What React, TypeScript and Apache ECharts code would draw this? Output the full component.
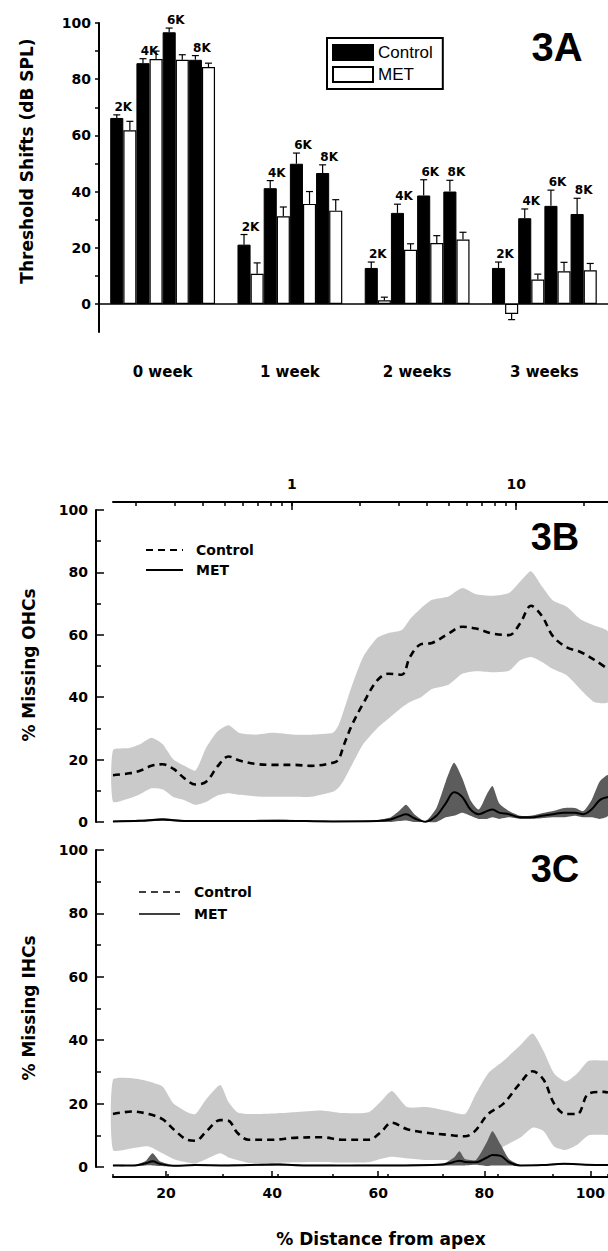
import React, { useEffect, useRef } from 'react';
import * as echarts from 'echarts';

// ---------------- Panel 3A : threshold shifts ----------------
const weekLabels = ['0 week', '1 week', '2 weeks', '3 weeks'];
const freqNames = ['2K', '4K', '6K', '8K'];
const ctl2K = [66.2, 21.1, 12.8, 12.8];
const ctl4K = [85.7, 41.2, 32.4, 30.5];
const ctl6K = [96.7, 49.9, 38.6, 34.9];
const ctl8K = [86.9, 46.6, 40.0, 32.0];
const met2K = [61.8, 10.7, 1.3, -3.6];
const met4K = [87.2, 31.2, 19.3, 8.7];
const met6K = [86.9, 35.6, 21.7, 11.6];
const met8K = [84.3, 33.2, 22.9, 12.0];
const ctl2KErr = [1.1, 3.6, 2.1, 2.1];
const ctl4KErr = [1.6, 2.7, 3.1, 3.3];
const ctl6KErr = [1.5, 3.8, 5.6, 5.6];
const ctl8KErr = [1.5, 2.9, 4.0, 5.6];
const met2KErr = [3.2, 3.9, 1.1, 2.0];
const met4KErr = [2.8, 3.3, 2.1, 1.9];
const met6KErr = [1.8, 4.4, 2.6, 3.2];
const met8KErr = [1.4, 3.9, 2.6, 2.4];
const shiftTicks = [0, 10, 20, 30, 40, 50, 60, 70, 80, 90, 100];
const shiftLabels = [0, 20, 40, 60, 80, 100];

// ---------------- Panel 3B : missing OHCs ----------------
const ohcX = [10, 13, 15, 17, 19, 21, 23, 25, 27, 29, 31, 33, 36, 39, 43, 46, 50, 51, 52, 53.5, 55.5, 58, 60, 62.5, 64, 66, 68, 71, 73.5, 76, 79, 82, 84, 86, 88, 90, 92.5, 95, 97.5, 100];
const ohcCtlMean = [15, 15.6, 16.5, 18, 18.5, 17, 14, 12, 13, 17.8, 21, 19.7, 18.6, 18.3, 18.3, 18, 19, 20, 24.8, 31.3, 38, 45.3, 47.5, 47.2, 52.9, 57, 57.4, 60.4, 62.6, 62, 60.4, 59.9, 63.6, 69.3, 66, 59.5, 56, 54.5, 52, 49];
const ohcCtlHigh = [23, 23.7, 25, 27, 25, 20, 18, 16.5, 24, 29, 31, 28.5, 28, 28.6, 28, 28, 28.6, 31, 36, 44, 53, 59, 60.5, 61.5, 65, 68.5, 71.2, 72.3, 75, 73, 72.5, 73.4, 77, 80.4, 75.5, 71, 69, 65, 63, 61];
const ohcCtlLow = [6.5, 7.6, 9, 10.8, 10.5, 8, 7, 5.5, 6.5, 8.5, 9.2, 8.7, 8.2, 8.1, 8.1, 8.1, 9.7, 11, 13.5, 18.5, 25, 30, 33, 36.7, 38.5, 40, 42.6, 44, 47.5, 48.3, 48, 48.5, 51.8, 52.9, 51.3, 49, 47, 42.5, 38.5, 38.5];
const ohcMetX = [10, 15, 19, 23, 30, 40, 50, 58, 60.5, 62, 63.3, 64.8, 66.8, 68.8, 70.5, 72, 73.5, 75, 76.5, 78, 79, 80.2, 82, 84, 86, 88, 90, 92, 94, 95.5, 97, 98.5, 100];
const ohcMetMean = [0.2, 0.4, 0.8, 0.3, 0.3, 0.4, 0.2, 0.3, 0.8, 1.8, 2.5, 1.2, 0.1, 2.0, 6.0, 9.5, 8.0, 4.0, 2.5, 3.5, 4.0, 3.0, 2.5, 1.5, 1.5, 2.0, 2.5, 3.0, 3.0, 2.5, 4.0, 7.0, 8.0];
const ohcMetLow = [0, 0.1, 0.4, 0, 0, 0.1, 0, 0, 0, 0.3, 0.5, 0, 0, 0, 1.5, 2, 3, 2, 1, 1, 1.5, 1, 1.5, 1, 1, 1.2, 1.5, 1.5, 2, 1.5, 1.5, 1, 2];
const ohcMetHigh = [0.4, 0.7, 1.2, 0.6, 0.6, 0.7, 0.4, 0.6, 1.5, 3.5, 5.5, 2.5, 0.3, 4.5, 13, 19, 14, 7, 4, 9, 11.5, 6, 3.5, 2, 2, 2.8, 3.5, 4.5, 4.5, 3.5, 7, 13, 15];

// ---------------- Panel 3C : missing IHCs ----------------
const ihcX = [10, 13.5, 16.5, 19, 21, 23.5, 25, 27, 29.5, 31, 32.6, 34.7, 39, 43, 48, 51.6, 56.5, 58.6, 60.7, 63.5, 67, 70.5, 74, 75.8, 78.2, 81, 84, 86.3, 88.3, 90.2, 92.3, 94.4, 96.5, 99.3, 100];
const ihcCtlMean = [16.7, 17.5, 16.7, 15.1, 11.9, 8.6, 8.3, 11.3, 14.8, 14.6, 10.8, 8.6, 8.6, 9.2, 9.4, 8.6, 8.6, 10.8, 14.0, 11.9, 10.8, 10.2, 9.7, 11.3, 16.7, 20.0, 26.4, 30.2, 27.5, 20.0, 16.7, 16.7, 23.2, 23.7, 23.5];
const ihcCtlHigh = [27.5, 28, 27, 25.4, 20, 17.3, 16.7, 21.5, 25.9, 20.5, 17.3, 16.7, 16.9, 17.3, 17.8, 17.0, 17.3, 20.5, 24.0, 18.9, 18.9, 17.8, 16.7, 22.5, 29.5, 33.5, 38.3, 42.1, 36.5, 29.5, 27.0, 29.5, 33.5, 33.6, 33.4];
const ihcCtlLow = [5.4, 5.9, 6.5, 4.3, 2.5, 1.4, 1.1, 2.5, 4.3, 3.0, 2.2, 1.3, 1.3, 1.5, 1.6, 1.4, 1.5, 2.5, 3.2, 2.7, 2.2, 2.2, 1.6, 2.2, 4.0, 6.5, 9.2, 12.4, 11.3, 6.5, 5.4, 7.0, 10.0, 10.2, 10.2];
const ihcMetX = [10, 14, 16, 17.2, 18.5, 21, 25, 30, 40, 45, 60, 70, 72, 73, 74, 76, 78, 79, 80.5, 82, 84, 88, 92, 96, 100];
const ihcMetMean = [0.5, 0.5, 1.2, 1.8, 1.0, 0.4, 0.6, 0.5, 0.8, 0.5, 0.5, 0.8, 1.6, 2.0, 1.6, 1.5, 3.0, 3.8, 3.5, 1.5, 0.5, 0.6, 1.0, 0.7, 0.6];
const ihcMetLow = [0.3, 0.3, 0.5, 0.5, 0.3, 0.2, 0.4, 0.3, 0.5, 0.3, 0.3, 0.5, 0.5, 0.5, 0.5, 0.7, 0.3, 0.5, 0.5, 0.5, 0.3, 0.4, 0.7, 0.5, 0.4];
const ihcMetHigh = [0.7, 0.7, 2, 4.3, 1.8, 0.6, 0.8, 0.7, 1.1, 0.7, 0.7, 1.1, 3, 5, 2.5, 2.3, 8, 11.3, 7, 2.5, 0.7, 0.8, 1.3, 0.9, 0.8];

// ---------------- axis ticks ----------------
const distTicks = [10, 20, 30, 40, 50, 60, 70, 80, 90, 100];
const distLabels = [20, 40, 60, 80, 100];
const freqTicks = [0.2, 0.3, 0.4, 0.5, 0.6, 0.7, 0.8, 0.9, 1, 2, 3, 4, 5, 6, 7, 8, 9, 10, 20];
const freqMajor = [1, 10];
const freqMin = 0.159;
const freqMax = 25.7;

const FONT = 'DejaVu Sans';
const BAR_W = 13.1;
const CAP = 3.5;

function buildOption(): any {
  const ctlMeans = [ctl2K, ctl4K, ctl6K, ctl8K];
  const metMeans = [met2K, met4K, met6K, met8K];
  const ctlErrs = [ctl2KErr, ctl4KErr, ctl6KErr, ctl8KErr];
  const metErrs = [met2KErr, met4KErr, met6KErr, met8KErr];

  const barSeries: any[] = [];
  const errData: number[][] = [];
  for (let s = 0; s < 8; s++) {
    const f = Math.floor(s / 2);
    const isCtl = s % 2 === 0;
    const vals = isCtl ? ctlMeans[f] : metMeans[f];
    const errs = isCtl ? ctlErrs[f] : metErrs[f];
    barSeries.push({
      type: 'bar',
      name: isCtl ? 'Control' : 'MET',
      xAxisIndex: 0,
      yAxisIndex: 0,
      data: vals,
      barWidth: BAR_W,
      barGap: '0%',
      itemStyle: isCtl
        ? { color: '#000', borderColor: '#000', borderWidth: 1 }
        : { color: '#fff', borderColor: '#000', borderWidth: 1.2 },
    });
    vals.forEach((v, w) => errData.push([w, s, v, errs[w]]));
  }

  const errSeries = {
    type: 'custom',
    xAxisIndex: 0,
    yAxisIndex: 0,
    z: 5,
    dimensions: ['week', 'slot', 'value', 'err'],
    encode: { x: 0, y: 2 },
    data: errData,
    renderItem: (params: any, api: any) => {
      const w = api.value(0);
      const s = api.value(1);
      const v = api.value(2);
      const e = api.value(3);
      const base = api.coord([w, v]);
      const tip = api.coord([w, v < 0 ? v - e : v + e]);
      const x = base[0] + (s - 3.5) * BAR_W;
      const st = { stroke: '#000', lineWidth: 1.2 };
      const children: any[] = [
        { type: 'line', shape: { x1: x, y1: base[1], x2: x, y2: tip[1] }, style: st },
        { type: 'line', shape: { x1: x - CAP, y1: tip[1], x2: x + CAP, y2: tip[1] }, style: st },
      ];
      if (s % 2 === 0) {
        children.push({
          type: 'text',
          x: x + BAR_W / 2,
          y: tip[1] - 2,
          style: {
            text: freqNames[s / 2],
            fontFamily: FONT,
            fontSize: 12,
            fontWeight: 'bold',
            fill: '#000',
            align: 'center',
            verticalAlign: 'bottom',
          },
        });
      }
      return { type: 'group', children };
    },
  };

  const band = (xs: number[], lo: number[], hi: number[], xi: number, yi: number, color: string, z: number) => ({
    type: 'custom',
    xAxisIndex: xi,
    yAxisIndex: yi,
    z,
    silent: true,
    encode: { x: 0, y: [1, 2] },
    data: xs.map((x, i) => [x, lo[i], hi[i]]),
    renderItem: (params: any, api: any) => {
      if (params.dataIndex !== 0) return null;
      const pts: number[][] = [];
      for (let i = 0; i < xs.length; i++) pts.push(api.coord([xs[i], hi[i]]));
      for (let i = xs.length - 1; i >= 0; i--) pts.push(api.coord([xs[i], lo[i]]));
      return { type: 'polygon', shape: { points: pts, smooth: 0.2 }, style: { fill: color } };
    },
  });

  const line = (name: string, xs: number[], ys: number[], xi: number, yi: number, dashed: boolean, z: number) => ({
    type: 'line',
    name,
    xAxisIndex: xi,
    yAxisIndex: yi,
    z,
    data: xs.map((x, i) => [x, ys[i]]),
    symbol: 'none',
    smooth: 0.35,
    lineStyle: dashed ? { color: '#000', width: 2.6, type: [7, 5] } : { color: '#000', width: 2 },
  });

  const tickLabel = { fontFamily: FONT, fontWeight: 'bold', fontSize: 14, color: '#000' };
  const lineStyle2 = { color: '#000', width: 2 };
  const tickStyle = { color: '#000', width: 1.5 };

  const gridB = { left: 113, width: 495, top: 510, height: 312 };
  const gridC = { left: 113, width: 495, top: 850, height: 317 };

  const hiddenY = (g: number) => ({
    type: 'value', gridIndex: g, min: 0, max: 100, show: false,
    axisLine: { show: false, onZero: false }, axisTick: { show: false }, axisLabel: { show: false }, splitLine: { show: false },
  });
  const percentY = (g: number) => ({
    type: 'value',
    gridIndex: g,
    min: 0,
    max: 100,
    interval: 20,
    offset: 17,
    axisLine: { show: true, onZero: false, lineStyle: lineStyle2 },
    axisTick: { show: true, inside: true, length: 8, lineStyle: tickStyle },
    minorTick: { show: true, splitNumber: 2, length: 5, lineStyle: tickStyle },
    axisLabel: { ...tickLabel, margin: 8 },
    splitLine: { show: false },
    minorSplitLine: { show: false },
  });

  const logFreq = (v: number) => Math.log10(v);

  return {
    animation: false,
    backgroundColor: '#fff',
    legend: {
      data: ['Control', 'MET'],
      orient: 'vertical',
      left: 327,
      top: 38,
      itemWidth: 40,
      itemHeight: 15,
      itemGap: 5,
      padding: [6, 10, 6, 5],
      borderColor: '#000',
      borderWidth: 2,
      icon: 'rect',
      selectedMode: false,
      textStyle: { fontFamily: 'Liberation Sans', fontSize: 17, color: '#000' },
    },
    grid: [
      { left: 99, width: 522, top: 23, height: 309 },
      gridB,
      gridB,
      gridC,
      gridC,
    ],
    xAxis: [
      {
        type: 'category',
        gridIndex: 0,
        data: weekLabels,
        axisLine: { onZero: true, lineStyle: { color: '#000', width: 1.5 } },
        axisTick: { show: false },
        axisLabel: { ...tickLabel, fontSize: 15, margin: 32 },
      },
      {
        type: 'value', gridIndex: 1, min: 10, max: 100, show: false,
        axisLine: { show: false, onZero: false }, splitLine: { show: false },
      },
      {
        type: 'value',
        gridIndex: 1,
        position: 'top',
        offset: 8,
        min: logFreq(freqMin),
        max: logFreq(freqMax),
        axisLine: { show: true, onZero: false, lineStyle: lineStyle2 },
        axisTick: { show: true, inside: true, length: 4, customValues: freqTicks.map(logFreq), lineStyle: tickStyle },
        axisLabel: { show: false },
        splitLine: { show: false },
      },
      {
        type: 'value',
        gridIndex: 2,
        position: 'top',
        offset: 8,
        min: logFreq(freqMin),
        max: logFreq(freqMax),
        axisLine: { show: false, onZero: false },
        axisTick: { show: true, inside: true, length: 8, customValues: freqMajor.map(logFreq), lineStyle: tickStyle },
        axisLabel: {
          ...tickLabel,
          margin: 11,
          customValues: freqMajor.map(logFreq),
          formatter: (v: number) => String(Math.round(Math.pow(10, v))),
        },
        splitLine: { show: false },
      },
      {
        type: 'value',
        gridIndex: 3,
        position: 'bottom',
        offset: 10,
        min: 10,
        max: 100,
        axisLine: { show: true, onZero: false, lineStyle: lineStyle2 },
        axisTick: { show: true, inside: true, length: 3, customValues: distTicks, lineStyle: tickStyle },
        axisLabel: { show: false },
        splitLine: { show: false },
      },
      {
        type: 'value',
        gridIndex: 4,
        position: 'bottom',
        offset: 10,
        min: 10,
        max: 100,
        axisLine: { show: false, onZero: false },
        axisTick: { show: true, inside: true, length: 6, customValues: distLabels, lineStyle: tickStyle },
        axisLabel: { ...tickLabel, margin: 9, customValues: distLabels },
        splitLine: { show: false },
      },
    ],
    yAxis: [
      {
        type: 'value',
        gridIndex: 0,
        min: -10,
        max: 100,
        axisLine: { show: true, onZero: false, lineStyle: lineStyle2 },
        axisTick: { show: true, inside: false, length: 4, customValues: shiftTicks, lineStyle: tickStyle },
        axisLabel: { ...tickLabel, margin: 8, customValues: shiftLabels },
        splitLine: { show: false },
      },
      percentY(1),
      hiddenY(2),
      percentY(3),
      hiddenY(4),
    ],
    graphic: [
      { type: 'text', x: 27, y: 161, rotation: Math.PI / 2, style: { text: 'Threshold Shifts (dB SPL)', fontFamily: FONT, fontWeight: 'bold', fontSize: 17, fill: '#000', align: 'center', verticalAlign: 'middle' } },
      { type: 'text', x: 29, y: 665, rotation: Math.PI / 2, style: { text: '% Missing OHCs', fontFamily: FONT, fontWeight: 'bold', fontSize: 17, fill: '#000', align: 'center', verticalAlign: 'middle' } },
      { type: 'text', x: 29, y: 1008, rotation: Math.PI / 2, style: { text: '% Missing IHCs', fontFamily: FONT, fontWeight: 'bold', fontSize: 17, fill: '#000', align: 'center', verticalAlign: 'middle' } },
      { type: 'text', x: 381, y: 1239, style: { text: '% Distance from apex', fontFamily: FONT, fontWeight: 'bold', fontSize: 17, fill: '#000', align: 'center', verticalAlign: 'middle' } },
      { type: 'text', x: 557, y: 47, style: { text: '3A', fontFamily: 'Liberation Sans', fontWeight: 'bold', fontSize: 40, fill: '#000', align: 'center', verticalAlign: 'middle' } },
      { type: 'text', x: 555, y: 537, style: { text: '3B', fontFamily: 'Liberation Sans', fontWeight: 'bold', fontSize: 38, fill: '#000', align: 'center', verticalAlign: 'middle' } },
      { type: 'text', x: 555, y: 869, style: { text: '3C', fontFamily: 'Liberation Sans', fontWeight: 'bold', fontSize: 38, fill: '#000', align: 'center', verticalAlign: 'middle' } },
      { type: 'line', shape: { x1: 146, y1: 550, x2: 183, y2: 550 }, style: { stroke: '#000', lineWidth: 2, lineDash: [7, 5] } },
      { type: 'line', shape: { x1: 146, y1: 570, x2: 183, y2: 570 }, style: { stroke: '#000', lineWidth: 2 } },
      { type: 'text', x: 196, y: 550, style: { text: 'Control', fontFamily: FONT, fontWeight: 'bold', fontSize: 14, fill: '#000', align: 'left', verticalAlign: 'middle' } },
      { type: 'text', x: 196, y: 570, style: { text: 'MET', fontFamily: FONT, fontWeight: 'bold', fontSize: 14, fill: '#000', align: 'left', verticalAlign: 'middle' } },
      { type: 'line', shape: { x1: 139, y1: 892, x2: 180, y2: 892 }, style: { stroke: '#000', lineWidth: 1.5, lineDash: [7, 5] } },
      { type: 'line', shape: { x1: 139, y1: 914, x2: 180, y2: 914 }, style: { stroke: '#000', lineWidth: 1.5 } },
      { type: 'text', x: 194, y: 892, style: { text: 'Control', fontFamily: FONT, fontWeight: 'bold', fontSize: 14, fill: '#000', align: 'left', verticalAlign: 'middle' } },
      { type: 'text', x: 194, y: 914, style: { text: 'MET', fontFamily: FONT, fontWeight: 'bold', fontSize: 14, fill: '#000', align: 'left', verticalAlign: 'middle' } },
    ],
    series: [
      ...barSeries,
      errSeries,
      band(ohcX, ohcCtlLow, ohcCtlHigh, 1, 1, '#cacaca', 1),
      line('Control OHCs', ohcX, ohcCtlMean, 1, 1, true, 3),
      band(ohcMetX, ohcMetLow, ohcMetHigh, 1, 1, '#5c5c5c', 4),
      line('MET OHCs', ohcMetX, ohcMetMean, 1, 1, false, 5),
      band(ihcX, ihcCtlLow, ihcCtlHigh, 4, 3, '#cacaca', 1),
      line('Control IHCs', ihcX, ihcCtlMean, 4, 3, true, 3),
      band(ihcMetX, ihcMetLow, ihcMetHigh, 4, 3, '#5c5c5c', 4),
      line('MET IHCs', ihcMetX, ihcMetMean, 4, 3, false, 5),
    ],
  };
}

export default function App() {
  const ref = useRef<HTMLDivElement>(null);
  useEffect(() => {
    if (!ref.current) return;
    const chart = echarts.init(ref.current, null, { renderer: 'svg' });
    chart.setOption(buildOption());
    return () => chart.dispose();
  }, []);
  return (
    <div
      ref={ref}
      style={{ position: 'absolute', left: 0, top: 0, width: 608, height: 1251, background: '#fff' }}
    />
  );
}
